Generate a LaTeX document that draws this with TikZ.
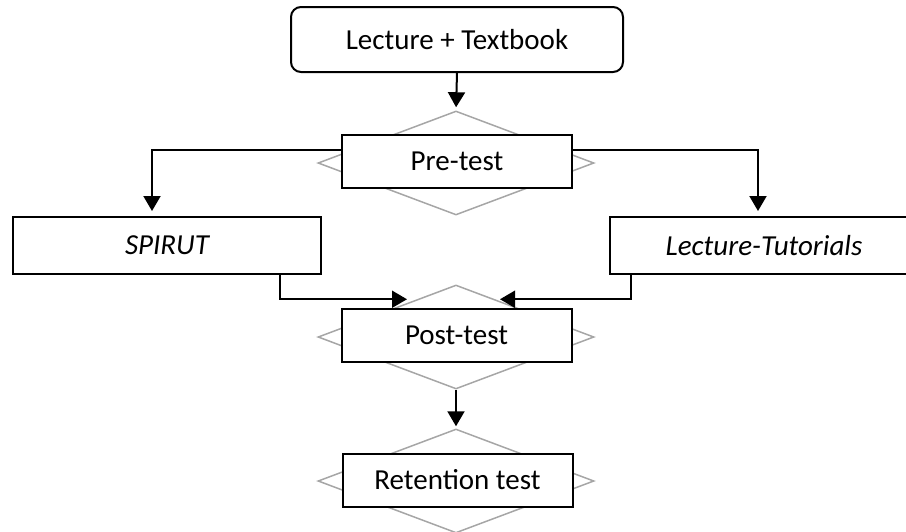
\documentclass[tikz,border=0pt]{standalone}
\usepackage{fontspec}
\setmainfont{Carlito}
\usetikzlibrary{positioning}
\usetikzlibrary{calc}
\usetikzlibrary{arrows.meta}
\usetikzlibrary{shapes.geometric}

\begin{document}
\begin{tikzpicture}[x=0.5pt, y=-0.5pt,
    every node/.style={font=\fontsize{14.5}{17}\selectfont},
    box/.style={draw, line width=1pt, fill=white, minimum width=115pt, minimum height=26.5pt, inner sep=0pt},
    armbox/.style={draw, line width=1pt, fill=white, minimum width=154pt, minimum height=28.5pt, inner sep=0pt,
        font=\fontsize{14.5}{17}\selectfont\itshape},
    gate/.style={diamond, draw=black!35, line width=0.75pt, minimum width=138pt, minimum height=52pt, inner sep=0pt},
    flow/.style={-{Triangle[width=8.5pt,length=7.5pt]}, line width=1pt}]
    \useasboundingbox (0,0) rectangle (906,531);

    % grey diamonds behind the test boxes
    \node[gate] (pregate) at (456,163) {};
    \node[gate] (postgate) at (456,337) {};
    \node[gate] (retgate) at (456,481) {};

    \node[box, rounded corners=5pt, minimum width=166pt, minimum height=32.5pt] (lecture) at (457,39.5) {Lecture + Textbook};
    \node[box] (pretest) at (457,161.5) {Pre-test};
    \node[armbox] (spirut) at (167,245.5) {SPIRUT};
    \node[armbox] (tutorials) at (764,245.5) {Lecture-Tutorials};
    \node[box] (posttest) at (456.5,335) {Post-test};
    \node[box] (retention) at (457.5,480) {Retention test};

    \coordinate (inL) at ($(postgate.north)+(-24.5pt,-7.5pt)$);
    \coordinate (inR) at ($(postgate.north)+(22pt,-7.5pt)$);

    \draw[flow, shorten >=1.5pt] (lecture.south) -- (pregate.north);
    \draw[flow, shorten >=2.5pt] ([yshift=5.75pt]pretest.west) -| ([xshift=-7.5pt]spirut.north);
    \draw[flow, shorten >=2.5pt] ([yshift=5.75pt]pretest.east) -| ([xshift=-3pt]tutorials.north);
    \draw[flow] ([xshift=56.5pt]spirut.south) |- (inL);
    \draw[flow] ([xshift=-66.5pt]tutorials.south) |- (inR);
    \draw[flow, shorten >=1pt] (postgate.south) -- (retgate.north);
\end{tikzpicture}
\end{document}
